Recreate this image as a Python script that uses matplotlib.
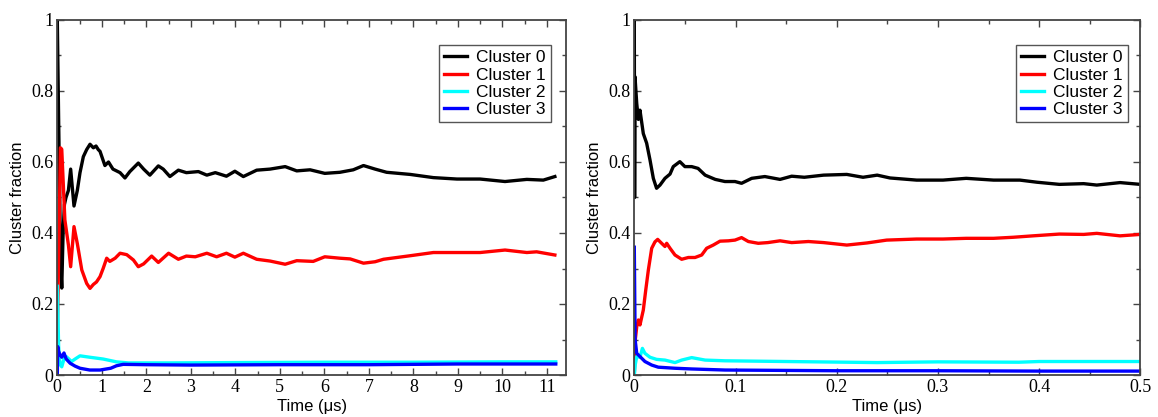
import matplotlib
matplotlib.use("Agg")
import matplotlib.pyplot as plt
from matplotlib.ticker import MultipleLocator, FuncFormatter

# ---------------- data: left panel (time in us) ----------------
left_c0_t = [0, 0.03, 0.06, 0.08, 0.1, 0.13, 0.16, 0.195, 0.25, 0.30, 0.375, 0.45, 0.51, 0.585, 0.66,
             0.735, 0.81, 0.87, 0.92, 0.96, 1.07, 1.15, 1.25, 1.41, 1.52, 1.63, 1.82, 1.94, 2.08,
             2.27, 2.38, 2.53, 2.72, 2.9, 3.17, 3.36, 3.55, 3.8, 3.99, 4.18, 4.48, 4.78, 5.12,
             5.38, 5.68, 6.01, 6.35, 6.65, 6.88, 7.14, 7.4, 7.93, 8.45, 8.98, 9.5, 10.06, 10.55,
             10.92, 11.18]
left_c0_v = [1.0, 0.72, 0.45, 0.30, 0.245, 0.40, 0.48, 0.50, 0.52, 0.58, 0.476, 0.52, 0.57, 0.615, 0.635,
             0.65, 0.64, 0.645, 0.635, 0.63, 0.59, 0.60, 0.58, 0.57, 0.555, 0.573, 0.597, 0.58, 0.563,
             0.589, 0.58, 0.559, 0.577, 0.57, 0.573, 0.563, 0.57, 0.56, 0.574, 0.559, 0.577, 0.58, 0.587,
             0.575, 0.578, 0.568, 0.571, 0.578, 0.59, 0.58, 0.571, 0.565, 0.556, 0.552, 0.552, 0.545, 0.551,
             0.549, 0.559]

left_c1_t = [0, 0.04, 0.07, 0.1, 0.17, 0.25, 0.30, 0.375, 0.45, 0.55, 0.66, 0.735, 0.81, 0.88, 0.96,
             1.03, 1.11, 1.18, 1.30, 1.41, 1.56, 1.71, 1.82, 1.94, 2.12, 2.27, 2.5, 2.72, 2.9, 3.1,
             3.36, 3.58, 3.8, 3.99, 4.18, 4.48, 4.78, 5.12, 5.38, 5.75, 6.01, 6.35, 6.58, 6.88, 7.14,
             7.33, 7.93, 8.45, 8.98, 9.5, 10.06, 10.55, 10.77, 11.18]
left_c1_v = [0.12, 0.40, 0.64, 0.636, 0.437, 0.366, 0.305, 0.418, 0.37, 0.296, 0.258, 0.244, 0.255, 0.262, 0.277,
             0.30, 0.329, 0.32, 0.329, 0.343, 0.339, 0.324, 0.305, 0.313, 0.335, 0.317, 0.343, 0.326, 0.335, 0.333,
             0.343, 0.333, 0.343, 0.332, 0.343, 0.326, 0.321, 0.312, 0.322, 0.32, 0.333, 0.329, 0.327, 0.315, 0.319,
             0.326, 0.336, 0.345, 0.345, 0.345, 0.352, 0.345, 0.347, 0.338]

left_c2_t = [0, 0.03, 0.06, 0.1, 0.15, 0.2, 0.32, 0.4, 0.51, 0.73, 1.03, 1.33, 1.6, 2.5, 4, 6, 8, 10, 11.2]
left_c2_v = [0.25, 0.08, 0.03, 0.023, 0.045, 0.052, 0.038, 0.045, 0.054, 0.05, 0.045, 0.037, 0.034, 0.034,
             0.035, 0.036, 0.036, 0.037, 0.037]

left_c3_t = [0, 0.01, 0.02, 0.05, 0.1, 0.15, 0.2, 0.29, 0.4, 0.51, 0.73, 0.96, 1.2, 1.33, 1.48, 2, 3, 5, 7, 9, 11.2]
left_c3_v = [0.0, 0.08, 0.07, 0.06, 0.05, 0.062, 0.045, 0.033, 0.025, 0.019, 0.014, 0.014, 0.019, 0.026, 0.03,
             0.029, 0.028, 0.029, 0.029, 0.031, 0.031]

# ---------------- data: right panel (time in us) ----------------
right_c0_t = [0, 0.0003, 0.0007, 0.0024, 0.004, 0.0056, 0.0089, 0.0122, 0.0155, 0.0188, 0.022, 0.0254, 0.0303,
              0.0353, 0.0385, 0.045, 0.05, 0.0567, 0.063, 0.07, 0.08, 0.0896, 0.0995, 0.106, 0.116, 0.129,
              0.144, 0.1555, 0.168, 0.187, 0.21, 0.226, 0.24, 0.2527, 0.279, 0.305, 0.328, 0.355, 0.381,
              0.398, 0.42, 0.444, 0.457, 0.48, 0.5]
right_c0_v = [1.0, 0.5, 0.84, 0.765, 0.72, 0.746, 0.68, 0.653, 0.606, 0.554, 0.526, 0.535, 0.554,
              0.566, 0.587, 0.601, 0.587, 0.587, 0.582, 0.563, 0.551, 0.545, 0.545, 0.54, 0.554, 0.559,
              0.551, 0.56, 0.557, 0.563, 0.565, 0.557, 0.563, 0.555, 0.549, 0.549, 0.554, 0.549, 0.549,
              0.543, 0.537, 0.539, 0.535, 0.542, 0.537]

right_c1_t = [0, 0.001, 0.0024, 0.004, 0.0056, 0.0089, 0.0113, 0.0139, 0.0172, 0.0204, 0.0231, 0.027, 0.0303,
              0.032, 0.0353, 0.0402, 0.0468, 0.0534, 0.06, 0.0666, 0.0715, 0.078, 0.0847, 0.093, 0.0995,
              0.106, 0.1127, 0.1225, 0.132, 0.144, 0.1555, 0.172, 0.187, 0.21, 0.23, 0.2494, 0.279, 0.305,
              0.328, 0.355, 0.3745, 0.394, 0.42, 0.444, 0.457, 0.48, 0.5]
right_c1_v = [0.0, 0.1, 0.136, 0.155, 0.141, 0.183, 0.239, 0.296, 0.357, 0.375, 0.382, 0.371, 0.362,
              0.371, 0.357, 0.338, 0.326, 0.331, 0.331, 0.338, 0.357, 0.366, 0.377, 0.378, 0.38,
              0.387, 0.376, 0.371, 0.373, 0.378, 0.373, 0.376, 0.373, 0.366, 0.372, 0.38, 0.383, 0.383,
              0.385, 0.385, 0.388, 0.392, 0.397, 0.396, 0.399, 0.392, 0.396]

right_c2_t = [0, 0.001, 0.0024, 0.0056, 0.008, 0.0105, 0.0155, 0.022, 0.0303, 0.0402, 0.0468, 0.0567, 0.07,
              0.0896, 0.15, 0.24, 0.3, 0.38, 0.4, 0.5]
right_c2_v = [0.0, 0.03, 0.052, 0.05, 0.075, 0.061, 0.05, 0.044, 0.042, 0.035, 0.042, 0.049, 0.042,
              0.04, 0.038, 0.035, 0.037, 0.036, 0.038, 0.038]

right_c3_t = [0, 0.0008, 0.0024, 0.0056, 0.0105, 0.0172, 0.0237, 0.0402, 0.0567, 0.0896, 0.2, 0.3, 0.4, 0.5]
right_c3_v = [0.36, 0.1, 0.061, 0.052, 0.038, 0.028, 0.022, 0.019, 0.017, 0.014, 0.012, 0.012, 0.011, 0.011]

labels = ["Cluster 0", "Cluster 1", "Cluster 2", "Cluster 3"]
colors = ["#000000", "#ff0000", "#00ffff", "#0000ff"]

left_series = [(left_c0_t, left_c0_v), (left_c1_t, left_c1_v), (left_c2_t, left_c2_v), (left_c3_t, left_c3_v)]
right_series = [(right_c0_t, right_c0_v), (right_c1_t, right_c1_v), (right_c2_t, right_c2_v), (right_c3_t, right_c3_v)]

fig = plt.figure(figsize=(11.58, 4.17), dpi=100)
ax1 = fig.add_axes([57.3 / 1158, 42 / 417, 508.7 / 1158, 355 / 417])
ax2 = fig.add_axes([634.3 / 1158, 42 / 417, 506 / 1158, 355 / 417])

def fmt(x, pos):
    s = f"{x:.2f}".rstrip("0").rstrip(".")
    return "0" if s in ("-0", "") else s

serif = "Liberation Serif"
sans = "Liberation Sans"

for ax, series, xmax, xmaj, xmin, anchor_x in [
        (ax1, left_series, 11.43, 1, 0.5, 0.9705),
        (ax2, right_series, 0.5, 0.1, 0.05, 0.9757)]:
    for (t, v), c, lab in zip(series, colors, labels):
        ax.plot(t, v, color=c, lw=2.4, label=lab, solid_joinstyle="round")
    ax.set_xlim(0, xmax)
    ax.set_ylim(0, 1)
    ax.xaxis.set_major_locator(MultipleLocator(xmaj))
    ax.xaxis.set_minor_locator(MultipleLocator(xmin))
    ax.yaxis.set_major_locator(MultipleLocator(0.2))
    ax.yaxis.set_minor_locator(MultipleLocator(0.1))
    ax.xaxis.set_major_formatter(FuncFormatter(fmt))
    ax.yaxis.set_major_formatter(FuncFormatter(fmt))
    ax.tick_params(which="both", direction="in", top=True, right=True, color="#444444", width=1.0)
    ax.tick_params(which="major", length=5, pad=3, labelsize=13)
    ax.tick_params(which="minor", length=3)
    for lbl in ax.get_xticklabels() + ax.get_yticklabels():
        lbl.set_fontfamily(serif)
    for sp in ax.spines.values():
        sp.set_color("#444444")
        sp.set_linewidth(1.3)
    ax.set_xlabel("Time (μs)", fontsize=12, family=sans, labelpad=2)
    ax.set_ylabel("Cluster fraction", fontsize=12, family=sans, labelpad=4)
    leg = ax.legend(loc="upper right", bbox_to_anchor=(anchor_x, 0.9296), borderaxespad=0,
                    frameon=True, fancybox=False, shadow=False, edgecolor="#555555",
                    framealpha=1, prop={"family": sans, "size": 12.5}, handlelength=1.35,
                    handletextpad=0.5, labelspacing=0.12, borderpad=0.3)
    leg.get_frame().set_linewidth(1.0)

fig.savefig("out.png", dpi=100)
